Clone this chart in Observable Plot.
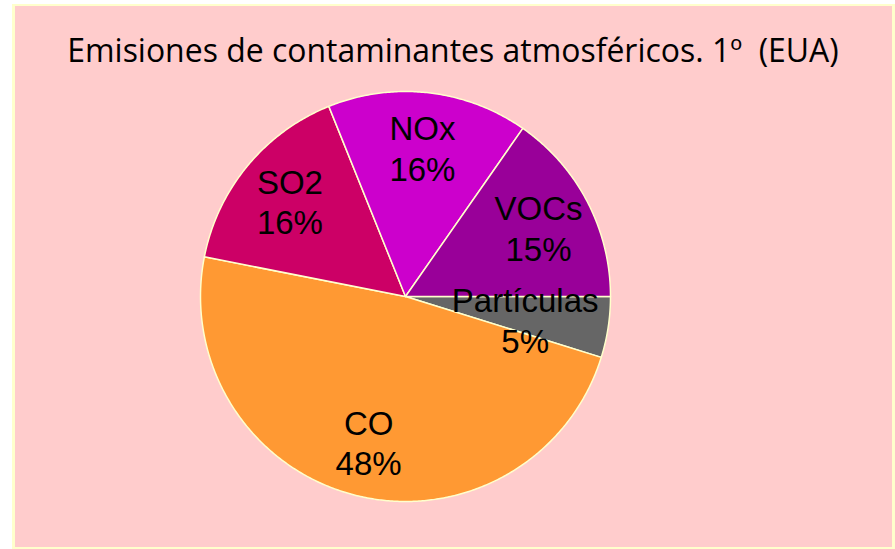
<!DOCTYPE html>
<html><head><meta charset="utf-8">
<script src="https://cdn.jsdelivr.net/npm/d3@7"></script>
<script src="https://cdn.jsdelivr.net/npm/@observablehq/plot@0.6"></script>
<style>
html,body{margin:0;padding:0;background:#fff;width:895px;height:549px;overflow:hidden}
#panel{position:absolute;left:12px;top:4px;width:883px;height:545px;box-sizing:border-box;background:#FFCCCC;border:2px solid #FFFFCC;border-left-width:3px;border-right-width:3px}
#chart{position:absolute;left:0;top:0}
</style></head><body>
<div id="panel"></div>
<div id="chart"></div>
<script>
// ---- data ----
const title = "Emisiones de contaminantes atmosféricos. 1º  (EUA)";
const categories = ["Partículas", "CO", "SO2", "NOx", "VOCs"];
const values = [4.8, 48.3, 15.8, 15.8, 15.3];
const colors = ["#666666", "#FF9933", "#CC0066", "#CC00CC", "#990099"];

// ---- layout ----
const W = 895, H = 549, cx = 405, cy = 296, R = 205;
const labelR = 150 / R;
const labelFont = "'Liberation Sans', Arial, sans-serif";
const labelSize = 33;
const titleFont = "'Open Sans', sans-serif";

const total = d3.sum(values);
const slices = d3.pie().sort(null)
  .startAngle(Math.PI / 2).endAngle(Math.PI / 2 + 2 * Math.PI)(values);

const polys = [];
slices.forEach((s, i) => {
  const a0 = s.startAngle, a1 = s.endAngle;
  const n = Math.max(2, Math.ceil((a1 - a0) / (Math.PI / 360)));
  polys.push({x: 0, y: 0, name: categories[i], color: colors[i]});
  for (let k = 0; k <= n; k++) {
    const a = a0 + (a1 - a0) * k / n;
    polys.push({x: Math.sin(a), y: Math.cos(a), name: categories[i], color: colors[i]});
  }
  polys.push({x: 0, y: 0, name: categories[i], color: colors[i]});
});

const ctx = document.createElement("canvas").getContext("2d");
function textW(t, font) { ctx.font = font; return ctx.measureText(t).width; }

const labels = slices.map((s, i) => {
  const m = (s.startAngle + s.endAngle) / 2;
  const pct = Math.round(values[i] / total * 100) + "%";
  const w = Math.max(textW(categories[i], `${labelSize}px ${labelFont}`), textW(pct, `${labelSize}px ${labelFont}`));
  const hw = w / 2 / R, lim = 1 - 12 / R;
  let x = labelR * Math.sin(m);
  if (x + hw > lim) x = lim - hw;
  if (x - hw < -lim) x = -lim + hw;
  return {x, y: labelR * Math.cos(m), text: categories[i] + "\n" + pct};
});

const svg = Plot.plot({
  width: W, height: H,
  marginLeft: cx - R, marginRight: W - cx - R,
  marginTop: cy - R, marginBottom: H - cy - R,
  x: {domain: [-1, 1], axis: null},
  y: {domain: [-1, 1], axis: null},
  color: {type: "identity"},
  style: {background: "transparent", overflow: "visible"},
  marks: [
    Plot.line(polys, {x: "x", y: "y", z: "name", fill: "color", stroke: "#FFFFCC", strokeWidth: 1.5, curve: "linear"}),
    Plot.text(labels, {x: "x", y: "y", text: "text", fontSize: labelSize, fontFamily: labelFont, fill: "black", lineHeight: 1.24, lineAnchor: "middle"})
  ]
});

const tw = textW(title, `100px ${titleFont}`);
const ts = 772 / tw * 100;
d3.select(svg).append("text")
  .attr("x", 453).attr("y", 62)
  .attr("text-anchor", "middle")
  .attr("font-family", titleFont)
  .attr("font-size", ts)
  .attr("fill", "black")
  .style("white-space", "pre")
  .text(title);

document.getElementById("chart").appendChild(svg);
</script>
</body></html>
